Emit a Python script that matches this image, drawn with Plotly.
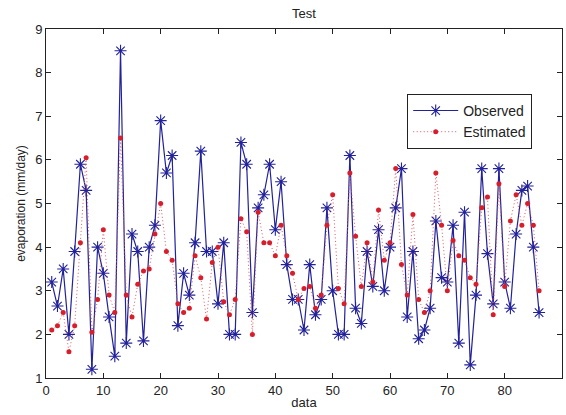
import plotly.graph_objects as go

# Sample index and daily evaporation (mm/day)
sample = list(range(1, 87))

observed = [
    3.2, 2.65, 3.5, 2.0, 3.9, 5.9, 5.3, 1.2, 4.0, 3.4,
    2.4, 1.5, 8.5, 1.8, 4.3, 3.9, 1.85, 4.0, 4.5, 6.9,
    5.7, 6.1, 2.2, 3.4, 2.9, 4.1, 6.2, 3.9, 3.9, 2.7,
    4.1, 2.0, 2.0, 6.4, 5.9, 2.5, 4.9, 5.2, 5.9, 4.4,
    5.5, 3.6, 2.8, 2.8, 2.1, 3.6, 2.45, 2.8, 4.9, 3.0,
    2.0, 2.0, 6.1, 2.6, 2.25, 3.9, 3.1, 4.4, 3.0, 4.0,
    4.9, 5.8, 2.4, 3.9, 1.9, 2.1, 2.6, 4.6, 3.3, 3.2,
    4.5, 1.8, 4.8, 1.3, 2.9, 5.8, 3.85, 2.7, 5.8, 3.2,
    2.6, 4.3, 5.3, 5.4, 4.0, 2.5,
]

estimated = [
    2.1, 2.2, 2.5, 1.6, 2.2, 4.1, 6.05, 2.05, 2.8, 4.4,
    2.9, 2.5, 6.5, 2.9, 2.4, 3.15, 3.45, 3.5, 4.3, 5.0,
    3.9, 3.7, 2.7, 2.5, 2.6, 3.8, 3.3, 2.35, 3.65, 4.0,
    2.75, 2.45, 2.8, 4.65, 4.35, 2.0, 4.8, 4.1, 4.1, 3.8,
    4.5, 3.8, 3.4, 2.8, 3.05, 3.1, 2.6, 2.9, 4.5, 5.2,
    3.05, 2.7, 5.7, 4.25, 3.1, 4.1, 3.2, 4.85, 3.7, 4.1,
    5.8, 3.6, 2.9, 4.75, 2.8, 2.5, 3.0, 5.7, 4.5, 3.0,
    4.15, 3.8, 3.7, 3.3, 3.15, 4.9, 5.15, 2.45, 5.45, 3.1,
    4.6, 5.2, 4.5, 5.0, 4.5, 3.0,
]

x_ticks = [0, 10, 20, 30, 40, 50, 60, 70, 80, 90]
y_ticks = [1, 2, 3, 4, 5, 6, 7, 8, 9]

font_family = "Liberation Sans, Arial, sans-serif"

fig = go.Figure()

fig.add_trace(go.Scatter(
    x=sample, y=observed, name="Observed",
    mode="lines+markers",
    line=dict(color="#22229a", width=1.2),
    marker=dict(symbol="asterisk-open", size=10,
                line=dict(color="#1a1ad0", width=1.1)),
))

fig.add_trace(go.Scatter(
    x=sample, y=estimated, name="Estimated",
    mode="lines+markers",
    line=dict(color="#e05560", width=1, dash="1px,2.5px"),
    marker=dict(symbol="circle", size=5, color="#d81e2a"),
))

axis_common = dict(
    showline=True, linecolor="#222", linewidth=1, mirror="ticks",
    ticks="inside", ticklen=5, tickcolor="#222",
    showgrid=False, zeroline=False,
    tickfont=dict(size=13, color="#222", family=font_family),
)

fig.update_layout(
    width=566, height=415,
    margin=dict(l=46, r=4, t=29, b=37),
    paper_bgcolor="white", plot_bgcolor="white",
    font=dict(family=font_family, size=12, color="#222"),
    title=dict(text="Test", x=0.537, xanchor="center", y=0.968, yanchor="middle",
               font=dict(size=13, color="#222")),
    xaxis=dict(range=[0, 90], tickvals=x_ticks,
               title=dict(text="data", standoff=1, font=dict(size=13)),
               **axis_common),
    yaxis=dict(range=[1, 9], tickvals=y_ticks,
               title=dict(text="evaporation (mm/day)", standoff=6, font=dict(size=12)),
               **axis_common),
    legend=dict(x=0.70, y=0.814, xanchor="left", yanchor="top",
                bgcolor="white", bordercolor="#222", borderwidth=1,
                font=dict(size=14, color="#222"), itemwidth=45,
                tracegroupgap=0),
    showlegend=True,
)

fig.write_html("out.html")
